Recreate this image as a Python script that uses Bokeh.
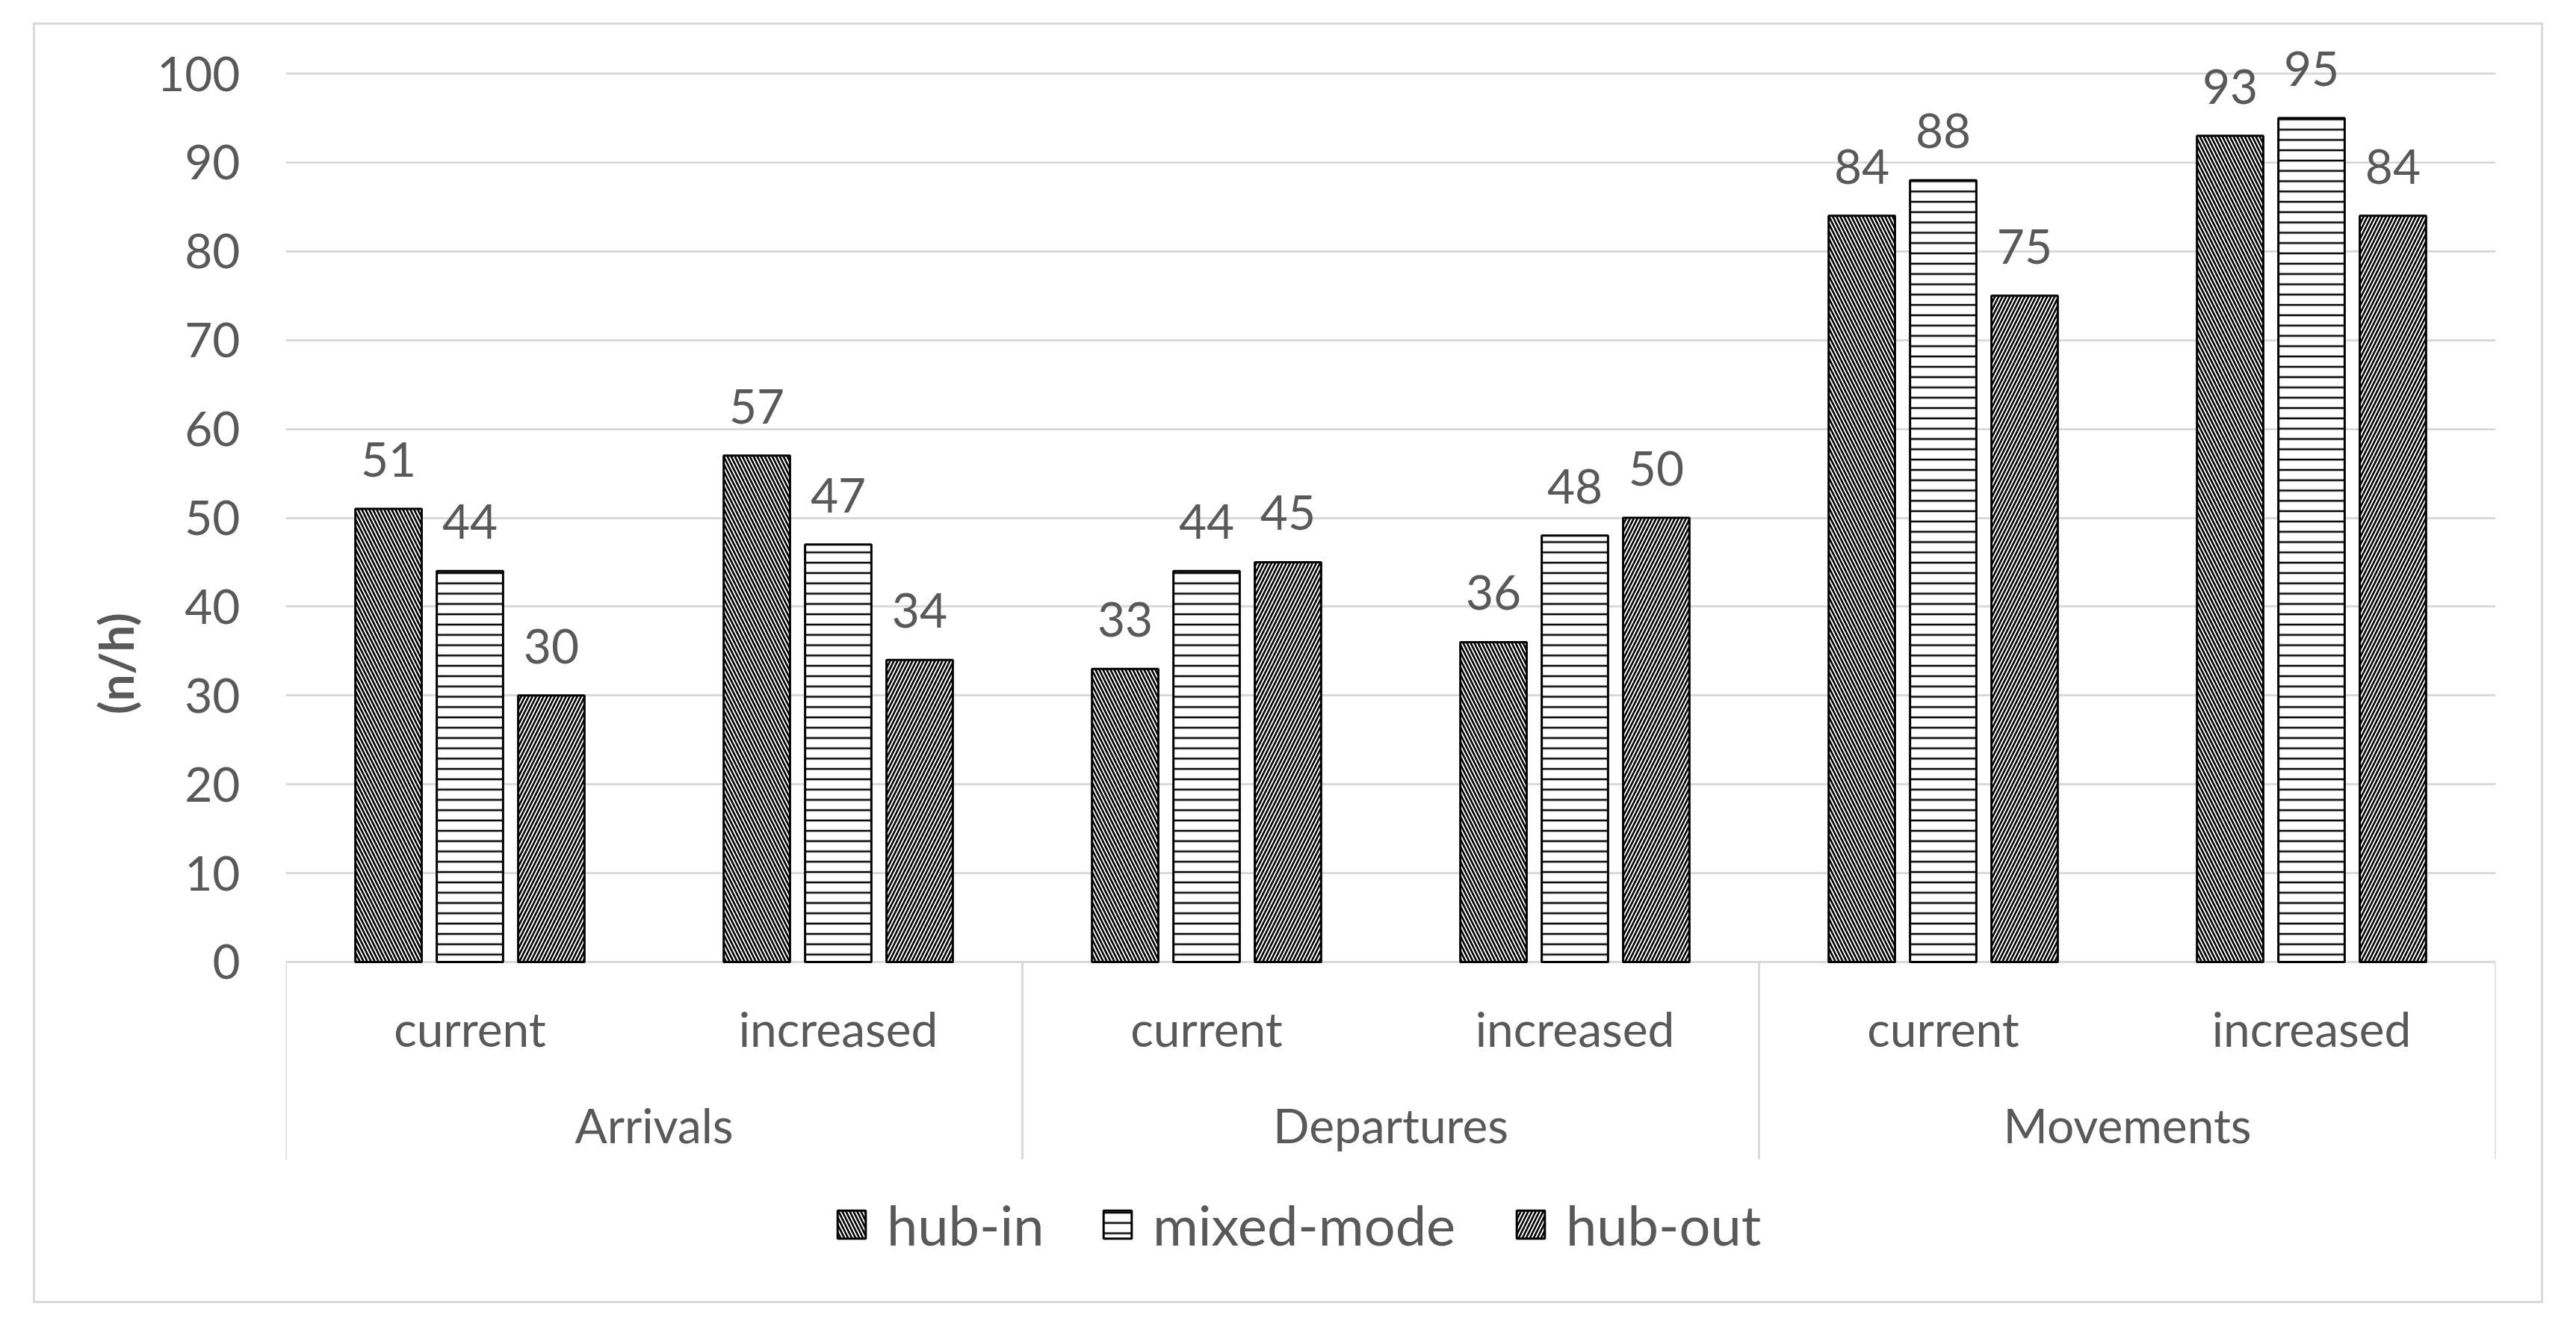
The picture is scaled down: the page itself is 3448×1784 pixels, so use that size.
from bokeh.plotting import figure
from bokeh.models import (ColumnDataSource, FactorRange, Range1d, FixedTicker,
                          Legend, LegendItem, InlineStyleSheet)
from bokeh.transform import dodge
from bokeh.core.properties import value
from bokeh.embed import file_html
from bokeh.resources import INLINE

# ---------------- data ----------------
groups = ["Arrivals", "Departures", "Movements"]
scenarios = ["current", "increased"]
series_names = ["hub-in", "mixed-mode", "hub-out"]
hub_in = [51, 57, 33, 36, 84, 93]
mixed_mode = [44, 47, 44, 48, 88, 95]
hub_out = [30, 34, 45, 50, 75, 84]
y_ticks = [0, 10, 20, 30, 40, 50, 60, 70, 80, 90, 100]
y_title = "(n/h)"

# ---------------- styles ----------------
FONT = "Lato"
TXT = "#595959"
GRID = "#d9d9d9"
W, H = 3448, 1784

factors = [(g, s) for g in groups for s in scenarios]
src = ColumnDataSource(dict(
    x=factors,
    hub_in=hub_in, mixed=mixed_mode, hub_out=hub_out,
    lab_in=[str(v) for v in hub_in],
    lab_mixed=[str(v) for v in mixed_mode],
    lab_out=[str(v) for v in hub_out],
))

x_range = FactorRange(*factors, factor_padding=0, group_padding=0,
                      range_padding=0)
y_range = Range1d(-37.68, 104.88)

p = figure(x_range=x_range, y_range=y_range, width=W, height=H,
           output_backend="svg", toolbar_location=None,
           min_border_left=382, min_border_right=108,
           min_border_top=40, min_border_bottom=49)
p.outline_line_color = None
p.background_fill_color = "white"
p.border_fill_color = "white"

# outer chart-area border (thin light grey frame around the whole chart)
border_css = (":host::after {content: ''; position: fixed; left: 44px; "
              "top: 30px; width: 3360px; height: 1714px; "
              "border: 3px solid #d9d9d9; box-sizing: border-box; "
              "pointer-events: none; z-index: 10;}")
p.stylesheets = [InlineStyleSheet(css=border_css)]

# axes
p.xaxis.visible = False
p.xgrid.visible = False
yax = p.yaxis[0]
yax.ticker = FixedTicker(ticks=y_ticks)
yax.axis_line_color = None
yax.major_tick_line_color = None
yax.minor_tick_line_color = None
yax.major_label_text_font = FONT
yax.major_label_text_font_size = "64px"
yax.major_label_text_color = TXT
yax.major_label_standoff = 55
yax.axis_label = y_title
yax.axis_label_text_font = FONT
yax.axis_label_text_font_size = "64px"
yax.axis_label_text_font_style = "bold"
yax.axis_label_text_color = TXT
yax.axis_label_standoff = 14
p.ygrid.grid_line_color = GRID
p.ygrid.grid_line_width = 3

# category axis lines (separators)
sep = ColumnDataSource(dict(x0=[0, 2, 4, 6], y0=[0, 0, 0, 0],
                            x1=[0, 2, 4, 6], y1=[-22.2] * 4))
p.segment(x0="x0", y0="y0", x1="x1", y1="y1", source=sep,
          line_color=GRID, line_width=3)

# bars
offsets = [-0.221, 0.0, 0.221]
cols = ["hub_in", "mixed", "hub_out"]
labs = ["lab_in", "lab_mixed", "lab_out"]
patterns = ["\\", "-", "/"]
scales = [10, 13.8, 10]
weights = [2.6, 2.5, 2.6]
renderers = []
for off, col, pat, sc, wt in zip(offsets, cols, patterns, scales, weights):
    r = p.vbar(x=dodge("x", off, range=p.x_range), top=col, bottom=0,
               width=0.18, source=src, fill_color="white",
               line_color="black", line_width=3,
               hatch_pattern=pat, hatch_color="black",
               hatch_scale=sc, hatch_weight=wt)
    renderers.append(r)

for off, lab, col in zip(offsets, labs, cols):
    p.text(x=dodge("x", off, range=p.x_range), y=col, text=lab, source=src,
           y_offset=-66, text_align="center", text_baseline="alphabetic",
           text_font=value(FONT), text_font_size="64px", text_color=TXT)

# category labels
sub_src = ColumnDataSource(dict(x=factors, y=[-7.48] * len(factors),
                                t=[s for g, s in factors]))
p.text(x="x", y="y", text="t", source=sub_src, text_align="center",
       text_baseline="alphabetic", text_font=value(FONT),
       text_font_size="64px", text_color=TXT)
grp_src = ColumnDataSource(dict(x=groups, y=[-18.33] * len(groups), t=groups))
p.text(x="x", y="y", text="t", source=grp_src, text_align="center",
       text_baseline="alphabetic", text_font=value(FONT),
       text_font_size="64px", text_color=TXT)

# legend (one entry per legend so each sits where the original has it)
legend_x = [734, 1090, 1643]
for name, r, lx in zip(series_names, renderers, legend_x):
    lg = Legend(items=[LegendItem(label=name, renderers=[r])],
                orientation="horizontal", location=(lx, 52),
                glyph_width=47, glyph_height=47, label_standoff=24,
                spacing=0, padding=0, margin=0,
                border_line_color=None, background_fill_alpha=0,
                label_text_font=FONT, label_text_font_size="74px",
                label_text_color=TXT)
    p.add_layout(lg)

open("out.html", "w").write(file_html(p, INLINE))
